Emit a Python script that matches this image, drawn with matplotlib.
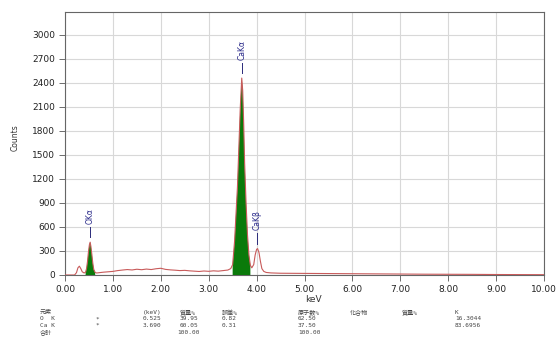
import matplotlib.pyplot as plt
import numpy as np

# EDS spectrum
energy = [0.00, 0.20, 0.24, 0.27, 0.30, 0.33, 0.36, 0.40, 0.43, 0.45, 0.47, 0.49,
          0.51, 0.525, 0.54, 0.56, 0.58, 0.60, 0.63, 0.66, 0.70, 0.80, 0.90, 1.00,
          1.10, 1.20, 1.30, 1.40, 1.50, 1.60, 1.70, 1.80, 1.90, 2.00, 2.10, 2.20,
          2.30, 2.40, 2.50, 2.60, 2.70, 2.80, 2.90, 3.00, 3.10, 3.20, 3.30, 3.40,
          3.46, 3.50, 3.54, 3.57, 3.60, 3.63, 3.66, 3.69, 3.71, 3.73, 3.75, 3.78,
          3.81, 3.84, 3.87, 3.90, 3.94, 3.97, 4.00, 4.02, 4.05, 4.08, 4.11,
          4.15, 4.20, 4.30, 4.50, 5.00, 5.50, 6.00, 6.50, 7.00, 7.50, 8.00, 8.50,
          9.00, 9.50, 10.00]
counts = [0, 0, 30, 90, 110, 80, 40, 25, 35, 80, 170, 290,
          380, 410, 360, 260, 150, 70, 32, 25, 28, 35, 40, 45,
          55, 62, 68, 63, 72, 66, 74, 68, 78, 84, 70, 64,
          60, 55, 58, 52, 48, 44, 50, 46, 52, 48, 55, 62,
          80, 130, 420, 760, 1100, 1600, 2100, 2460, 2300, 1900, 1400, 900,
          500, 250, 120, 90, 130, 250, 320, 330, 280, 170, 80,
          45, 32, 26, 22, 20, 18, 16, 14, 12, 10, 9, 8,
          6, 5, 4]

peaks = ['OKα', 'CaKα', 'CaKβ']
peak_kev = [0.525, 3.69, 4.01]
peak_top = [410, 2460, 330]
fill_ranges = [(0.43, 0.63), (3.50, 3.88)]

# quantification table
tbl_elem = ['O  K', 'Ca K']
tbl_kev = ['0.525', '3.690']
tbl_mass = ['39.95', '60.05']
tbl_err = ['0.82', '0.31']
tbl_atom = ['62.50', '37.50']
tbl_k = ['16.3044', '83.6956']

W, H = 557, 339
fig = plt.figure(figsize=(W / 100, H / 100), dpi=100)
ax = fig.add_axes([65 / W, 1 - 275 / H, (544 - 65) / W, (275 - 12) / H])

e = np.array(energy)
c = np.array(counts)
mask = np.zeros_like(e, dtype=bool)
for lo, hi in fill_ranges:
    mask |= (e >= lo) & (e <= hi)
ax.fill_between(e, 0, c, where=mask, color='#0a7a0a', lw=0, zorder=3)
ax.plot(e, c, color='#c85a5a', lw=0.8, zorder=4)

for name, x, top in zip(peaks, peak_kev, peak_top):
    ax.plot([x, x], [top + 60, top + 190], color='#2a2a7a', lw=0.7, zorder=5)
    ax.text(x, top + 230, name, rotation=90, ha='center', va='bottom',
            fontsize=5.5, color='#2a2a8a', zorder=5)

ax.set_xlim(0, 10)
ax.set_ylim(0, 3285)
ax.set_xticks(np.arange(0, 11, 1))
ax.set_xticklabels([f'{v:.2f}' for v in range(11)])
ax.set_yticks(np.arange(0, 3001, 300))
ax.grid(color='#d8d8d8', lw=0.8)
ax.set_axisbelow(True)
ax.tick_params(labelsize=6.5, colors='#555555', labelcolor='#222222',
               length=4, width=0.6, pad=3)
for s in ax.spines.values():
    s.set_color('#666666')
    s.set_linewidth(0.8)

fig.text(15 / W, 1 - 138 / H, 'Counts', rotation=90, ha='center', va='center',
         fontsize=5.5, color='#333333')
fig.text(313 / W, 1 - 300 / H, 'keV', ha='center', va='center',
         fontsize=6.5, color='#333333')

fam = ['DejaVu Sans Mono', 'Noto Sans CJK JP']
rows = [312.5, 319, 325.5, 332]


def put(x, row, s):
    fig.text(x / W, 1 - rows[row] / H, s, ha='left', va='center',
             fontsize=4.4, color='#444444', family=fam)


put(40, 0, '元素')
put(143, 0, '(keV)')
put(180, 0, '質量%')
put(222, 0, '誤差%')
put(298, 0, '原子数%')
put(350, 0, '化合物')
put(402, 0, '質量%')
put(455, 0, 'K')
for i in range(2):
    put(40, i + 1, tbl_elem[i])
    put(95, i + 1, '*')
    put(143, i + 1, tbl_kev[i])
    put(180, i + 1, tbl_mass[i])
    put(222, i + 1, tbl_err[i])
    put(298, i + 1, tbl_atom[i])
    put(455, i + 1, tbl_k[i])
put(40, 3, '合計')
put(177, 3, '100.00')
put(298, 3, '100.00')

fig.savefig('out.png', dpi=100)
